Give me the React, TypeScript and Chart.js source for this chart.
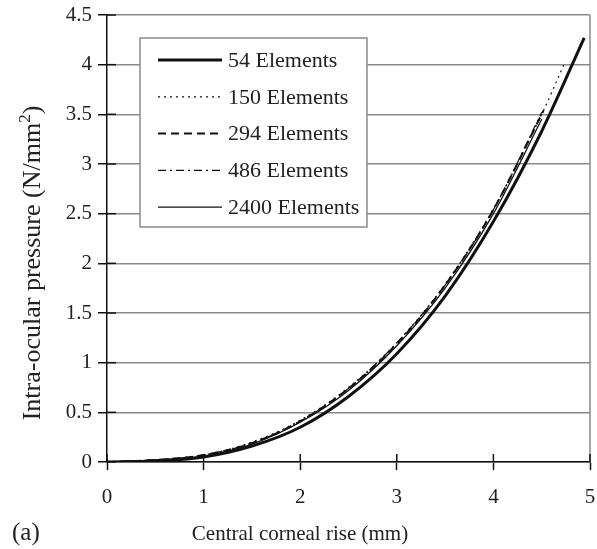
import React, { useEffect, useRef } from "react";
import { Chart, registerables } from "chart.js";

Chart.register(...registerables);

const seriesLabels = ["54 Elements", "150 Elements", "294 Elements", "486 Elements", "2400 Elements"];

const x54 = [0, 0.5, 1, 1.5, 2, 2.5, 3, 3.5, 4, 4.5, 4.94];
const y54 = [0, 0.01, 0.05, 0.16, 0.35, 0.66, 1.09, 1.67, 2.42, 3.33, 4.27];

const x150 = [0, 0.5, 1, 1.5, 2, 2.5, 3, 3.5, 4, 4.5, 4.73];
const y150 = [0, 0.02, 0.07, 0.2, 0.42, 0.75, 1.2, 1.79, 2.55, 3.5, 4.0];

const x294 = [0, 0.5, 1, 1.5, 2, 2.5, 3, 3.5, 4, 4.52];
const y294 = [0, 0.02, 0.07, 0.19, 0.41, 0.74, 1.19, 1.78, 2.54, 3.54];

const x486 = [0, 0.5, 1, 1.5, 2, 2.5, 3, 3.5, 4, 4.5];
const y486 = [0, 0.02, 0.07, 0.19, 0.41, 0.74, 1.2, 1.78, 2.54, 3.52];

const x2400 = [0, 0.5, 1, 1.5, 2, 2.5, 3, 3.5, 4, 4.5];
const y2400 = [0, 0.02, 0.06, 0.18, 0.4, 0.72, 1.17, 1.75, 2.5, 3.45];

const xTicks = [0, 1, 2, 3, 4, 5];
const yTicks = [0, 0.5, 1, 1.5, 2, 2.5, 3, 3.5, 4, 4.5];

const xTitle = "Central corneal rise (mm)";
const yTitleMain = "Intra-ocular pressure (N/mm";
const yTitleSup = "2";
const yTitleEnd = ")";
const panelLabel = "(a)";

const SERIF = "'Liberation Serif', 'DejaVu Serif', serif";

const styles = [
  { width: 3, dash: [] as number[] },
  { width: 1.2, dash: [2, 4] },
  { width: 2, dash: [8, 5] },
  { width: 1.2, dash: [8, 4, 2, 4] },
  { width: 1.3, dash: [] as number[] },
];

function toPts(xs: number[], ys: number[]) {
  return xs.map((x, i) => ({ x, y: ys[i] }));
}

const decorPlugin = {
  id: "decor",
  afterDraw(chart: any) {
    const { ctx, chartArea } = chart;
    const xs = chart.scales.x;
    const ys = chart.scales.y;
    ctx.save();
    // right border
    ctx.strokeStyle = "#8a8a8a";
    ctx.lineWidth = 1.5;
    ctx.beginPath();
    ctx.moveTo(chartArea.right, chartArea.top);
    ctx.lineTo(chartArea.right, chartArea.bottom);
    ctx.stroke();
    // inner ticks
    ctx.strokeStyle = "#111";
    ctx.lineWidth = 1.5;
    xTicks.forEach((v) => {
      const px = xs.getPixelForValue(v);
      ctx.beginPath();
      ctx.moveTo(px, chartArea.bottom);
      ctx.lineTo(px, chartArea.bottom - 8);
      ctx.stroke();
    });
    yTicks.forEach((v) => {
      const py = ys.getPixelForValue(v);
      ctx.beginPath();
      ctx.moveTo(chartArea.left, py);
      ctx.lineTo(chartArea.left + 9, py);
      ctx.stroke();
    });
    // legend
    const lx = chartArea.left + 33;
    const ly = chartArea.top + 23;
    const lw = 227;
    const lh = 189;
    ctx.fillStyle = "#fff";
    ctx.fillRect(lx, ly, lw, lh);
    ctx.strokeStyle = "#8a8a8a";
    ctx.lineWidth = 1.5;
    ctx.strokeRect(lx, ly, lw, lh);
    ctx.font = `22px ${SERIF}`;
    ctx.textBaseline = "middle";
    ctx.textAlign = "left";
    chart.data.datasets.forEach((ds: any, i: number) => {
      const yy = ly + 22 + i * 36.8;
      ctx.strokeStyle = "#111";
      ctx.lineWidth = ds.borderWidth;
      ctx.setLineDash(ds.borderDash || []);
      ctx.beginPath();
      ctx.moveTo(lx + 18, yy);
      ctx.lineTo(lx + 82, yy);
      ctx.stroke();
      ctx.setLineDash([]);
      ctx.fillStyle = "#222";
      ctx.fillText(ds.label, lx + 88, yy + 1);
    });
    // x title
    ctx.fillStyle = "#222";
    ctx.font = `21px ${SERIF}`;
    ctx.textBaseline = "alphabetic";
    ctx.textAlign = "center";
    ctx.fillText(xTitle, 300, 540);
    ctx.textAlign = "left";
    ctx.font = `25px ${SERIF}`;
    ctx.fillText(panelLabel, 12, 540);
    // y title
    ctx.translate(40, 263);
    ctx.rotate(-Math.PI / 2);
    ctx.font = `26px ${SERIF}`;
    const w1 = ctx.measureText(yTitleMain).width;
    ctx.font = `17px ${SERIF}`;
    const w2 = ctx.measureText(yTitleSup).width;
    ctx.font = `26px ${SERIF}`;
    const w3 = ctx.measureText(yTitleEnd).width;
    const total = w1 + w2 + w3;
    let cx = -total / 2;
    ctx.textAlign = "left";
    ctx.fillText(yTitleMain, cx, 0);
    cx += w1;
    ctx.font = `17px ${SERIF}`;
    ctx.fillText(yTitleSup, cx, -10);
    cx += w2;
    ctx.font = `26px ${SERIF}`;
    ctx.fillText(yTitleEnd, cx, 0);
    ctx.restore();
  },
};

export default function App() {
  const ref = useRef<HTMLCanvasElement | null>(null);
  useEffect(() => {
    document.body.style.margin = "0";
    const all = [
      toPts(x54, y54),
      toPts(x150, y150),
      toPts(x294, y294),
      toPts(x486, y486),
      toPts(x2400, y2400),
    ];
    const chart = new Chart(ref.current as HTMLCanvasElement, {
      type: "line",
      data: {
        datasets: all.map((d, i) => ({
          label: seriesLabels[i],
          data: d,
          borderColor: "#111",
          borderWidth: styles[i].width,
          borderDash: styles[i].dash,
          pointRadius: 0,
          fill: false,
          cubicInterpolationMode: "monotone",
        })),
      },
      options: {
        animation: false,
        responsive: true,
        maintainAspectRatio: false,
        layout: { padding: { left: 0, top: 15, right: 7, bottom: 0 } },
        plugins: { legend: { display: false }, tooltip: { enabled: false } },
        scales: {
          x: {
            type: "linear",
            min: 0,
            max: 5,
            afterFit: (s: any) => {
              s.height = 87;
              s.paddingLeft = 0;
              s.paddingRight = 0;
            },
            afterBuildTicks: (s: any) => {
              s.ticks = xTicks.map((v) => ({ value: v }));
            },
            ticks: {
              color: "#222",
              font: { family: SERIF, size: 21 },
              padding: 15,
              callback: (v: any) => String(v),
            },
            grid: {
              drawOnChartArea: false,
              drawTicks: true,
              tickLength: 8,
              tickColor: "#111",
              tickWidth: 1.5,
            },
            border: { display: true, color: "#111", width: 1.5 },
          },
          y: {
            type: "linear",
            min: 0,
            max: 4.5,
            afterFit: (s: any) => {
              s.width = 107;
              s.paddingTop = 0;
              s.paddingBottom = 0;
            },
            afterBuildTicks: (s: any) => {
              s.ticks = yTicks.map((v) => ({ value: v }));
            },
            ticks: {
              color: "#222",
              font: { family: SERIF, size: 21 },
              padding: 6,
              callback: (v: any) => String(v),
            },
            grid: {
              color: "#8a8a8a",
              lineWidth: 1.5,
              drawTicks: true,
              tickLength: 9,
              tickColor: "#111",
              tickWidth: 1.5,
            },
            border: { display: true, color: "#111", width: 1.5 },
          },
        },
      },
      plugins: [decorPlugin],
    } as any);
    return () => chart.destroy();
  }, []);
  return (
    <div style={{ width: 597, height: 549, position: "relative", background: "#fff" }}>
      <canvas ref={ref} />
    </div>
  );
}
